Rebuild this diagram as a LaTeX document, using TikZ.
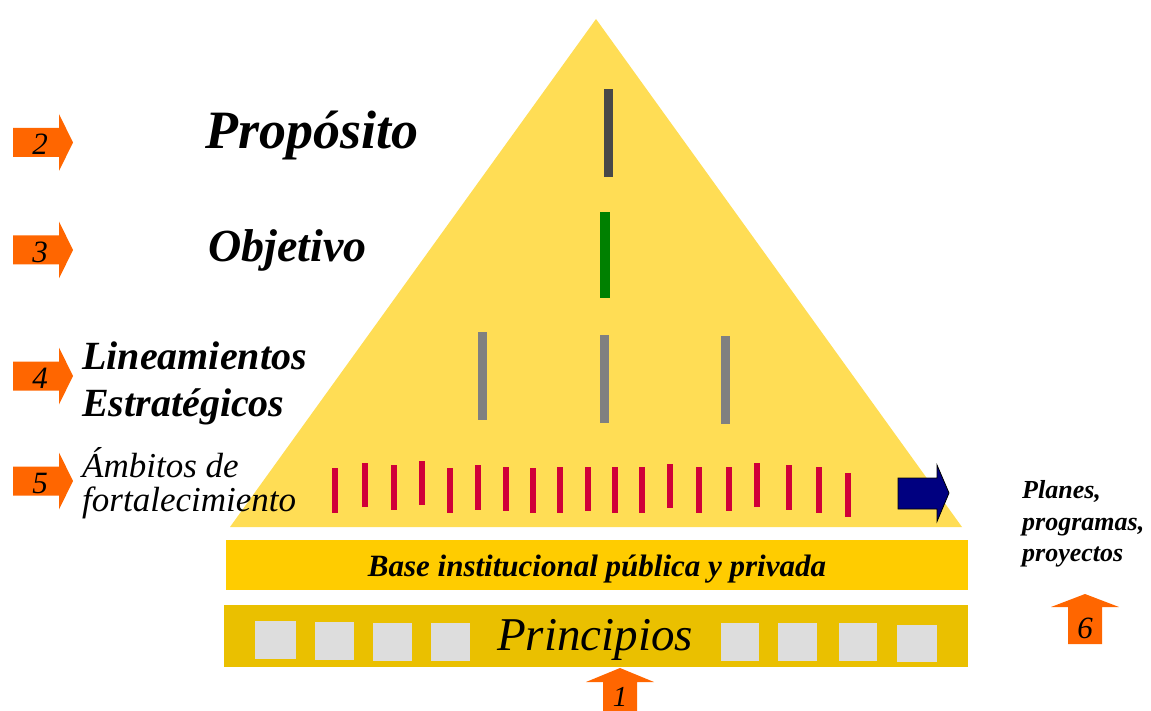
\documentclass[tikz,border=0pt]{standalone}
\usepackage{fontspec}
\setmainfont{Liberation Serif}
\definecolor{tri}{RGB}{255,221,85}
\definecolor{basec}{RGB}{255,204,0}
\definecolor{princ}{RGB}{234,192,0}
\definecolor{sq}{RGB}{221,221,221}
\definecolor{redbar}{RGB}{208,0,56}
\definecolor{darkbar}{RGB}{72,72,72}
\definecolor{greenbar}{RGB}{0,128,0}
\definecolor{graybar}{RGB}{128,128,128}
\definecolor{orangec}{RGB}{255,102,0}
\definecolor{navyc}{RGB}{0,0,128}
\begin{document}
\begin{tikzpicture}[x=1pt,y=-1pt,
  txt/.style={inner sep=0pt, anchor=base west},
  ctxt/.style={inner sep=0pt, anchor=base},
  num/.style={inner sep=0pt, anchor=base, font=\fontsize{31}{31}\selectfont\itshape},
  orangearrow/.style={fill=orangec},
]
\useasboundingbox (0,0) rectangle (1151,711);
% pyramid
\fill[tri] (230,527) -- (962,527) -- (596,19) -- cycle;
% bars
\fill[darkbar] (603.5,89.5) rectangle (612.5,177.5);
\fill[greenbar] (600,212.5) rectangle (610,298.5);
\fill[graybar] (478,331.5) rectangle (487,420);
\fill[graybar] (600,334.5) rectangle (609,422.5);
\fill[graybar] (720.5,335.5) rectangle (729.5,424);
\foreach \x/\t/\b in {335.4/467.5/513.2, 364.6/463.3/507.2, 394/465.4/509.6, 421.8/461.2/505.1,
  449.8/467.5/513.2, 478.2/465.4/509.6, 506.3/466.5/511.4, 533/467.5/513.2, 560.4/467.2/513.2,
  587.7/466.5/511.4, 615.1/467.2/513.2, 641.8/467.2/513.2, 669.8/463.7/507.9, 699.3/467.2/513.2,
  728.8/466.5/511.4, 757.2/463/507.2, 789.1/465/509.6, 818.6/467.2/513.2, 848.1/472.8/517.4}
  \fill[redbar] (\x-3,\t) rectangle (\x+3,\b);
% blue arrow
\filldraw[fill=navyc, draw=black, line width=0.8pt] (898,478) -- (937,478) -- (937,465) -- (949,493)
  -- (937,521.5) -- (937,509) -- (898,509) -- cycle;
% base rectangles
\fill[basec] (226,540) rectangle (968,590);
\fill[princ] (224,605) rectangle (968,667);
\foreach \a/\b/\t/\bb in {255/296/621/659, 315/354/622/660, 373/412/623/661, 431/469.5/623/661,
  721/759/623/661, 778/817/623/661, 839/877/623/661, 897/936.5/625/662}
  \fill[sq] (\a,\t) rectangle (\b,\bb);
% left arrows
\foreach \c/\n in {142.5/2, 250/3, 376/4, 481/5}{
  \fill[orangearrow] (13,\c-14.5) -- (59,\c-14.5) -- (59,\c-28.5) -- (73,\c) -- (59,\c+28.5)
    -- (59,\c+14.5) -- (13,\c+14.5) -- cycle;
  \node[num] (n\n) at (40,\c+12.5) {\n};
}
% up arrows
\fill[orangearrow] (620,668) -- (654,682) -- (637,682) -- (637,711) -- (603,711) -- (603,682) -- (586,682) -- cycle;
\node[num, font=\fontsize{29}{29}\selectfont\itshape] (n1) at (620,706) {1};
\fill[orangearrow] (1085,594) -- (1119,607) -- (1102,607) -- (1102,644) -- (1068,644) -- (1068,607) -- (1051,607) -- cycle;
\node[num] (n6) at (1085,638) {6};
% texts
\node[txt, font=\fontsize{54}{54}\selectfont\bfseries\itshape] (prop) at (205,149) {Propósito};
\node[txt, font=\fontsize{46}{46}\selectfont\bfseries\itshape] (obj) at (208,262) {Objetivo};
\node[txt, font=\fontsize{40}{40}\selectfont\bfseries\itshape] (lin1) at (82,369) {Lineamientos};
\node[txt, font=\fontsize{40}{40}\selectfont\bfseries\itshape] (lin2) at (82,416) {Estratégicos};
\node[txt, font=\fontsize{35}{35}\selectfont\itshape] (amb1) at (82,477) {Ámbitos de};
\node[txt, font=\fontsize{35}{35}\selectfont\itshape] (amb2) at (82,511) {fortalecimiento};
\node[ctxt, font=\fontsize{31}{31}\selectfont\bfseries\itshape] (base) at (597,576) {Base institucional pública y privada};
\node[ctxt, font=\fontsize{47}{47}\selectfont\itshape] (princ) at (595,650) {Principios};
\node[txt, font=\fontsize{26}{26}\selectfont\bfseries\itshape] (pl1) at (1022,498) {Planes,};
\node[txt, font=\fontsize{26}{26}\selectfont\bfseries\itshape] (pl2) at (1022,530) {programas,};
\node[txt, font=\fontsize{26}{26}\selectfont\bfseries\itshape] (pl3) at (1022,561) {proyectos};
\end{tikzpicture}
\end{document}
